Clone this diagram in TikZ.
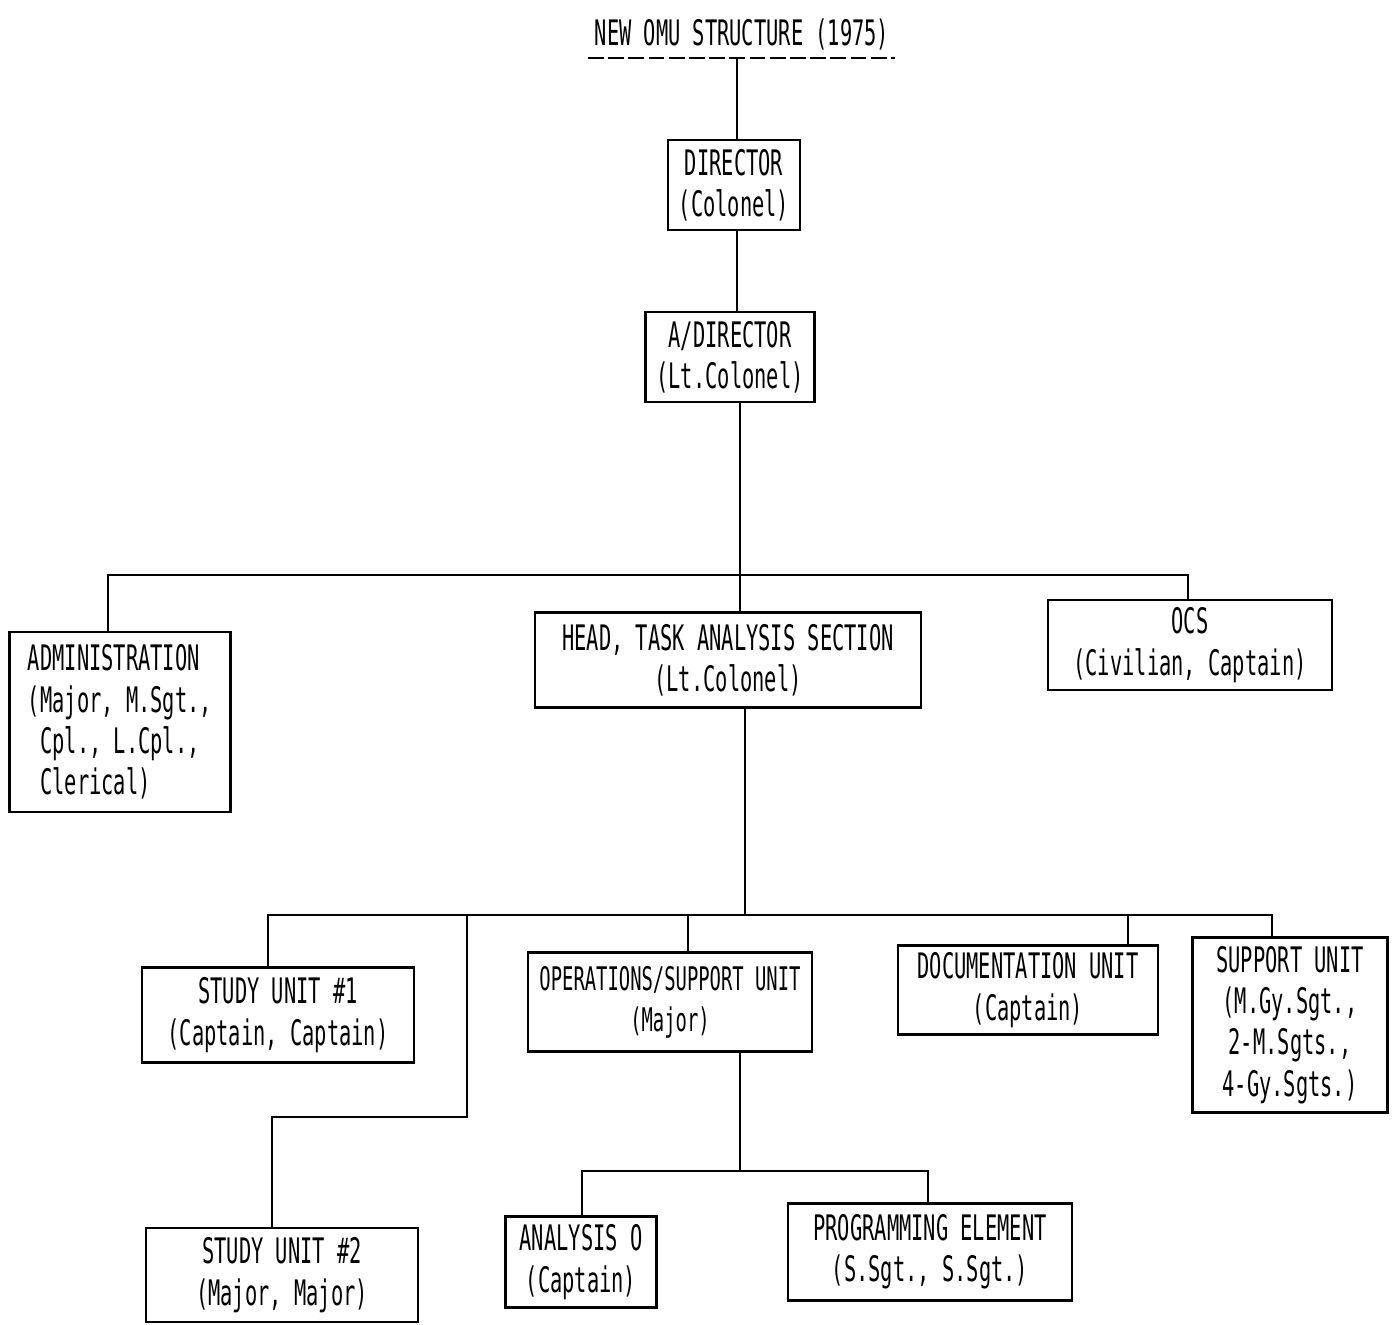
\documentclass[tikz,border=0pt]{standalone}
\usepackage{fontspec}
\setmainfont{DejaVu Sans Mono}[FakeStretch=0.58]
\begin{document}
\begin{tikzpicture}[x=0.02cm,y=-0.02cm,
  every node/.style={font=\fontsize{20}{23.5}\selectfont},
  bx/.style 2 args={draw, line width=1.2pt, align=center, inner sep=0pt,
    minimum width=#1*0.02cm, minimum height=#2*0.02cm},
  ln/.style={line width=1.2pt}]
\useasboundingbox[fill=white] (0,0) rectangle (1398,1324);

% title
\node (title) at (742,34) {NEW OMU STRUCTURE (1975)};
\coordinate (tl) at (588,58);
\coordinate (tr) at (895,58);
\draw[ln, dash pattern=on 9pt off 2.5pt] (tl) -- (tr);

% boxes
\node[bx={132}{90}] (dir) at (734,185) {DIRECTOR\\(Colonel)};
\node[bx={169}{90}] (adir) at (730,357) {A/DIRECTOR\\(Lt.Colonel)};
\node[bx={221}{180}, align=left] (admin) at (120,722)
  {ADMINISTRATION\\(Major, M.Sgt.,\\\phantom{(}Cpl., L.Cpl.,\\\phantom{(}Clerical)};
\node[bx={386}{95}] (head) at (728,660) {HEAD, TASK ANALYSIS SECTION\\(Lt.Colonel)};
\node[bx={284}{90}] (ocs) at (1190,645) {OCS\\(Civilian, Captain)};
\node[bx={272}{95}] (su1) at (278,1015) {STUDY UNIT \#1\\(Captain, Captain)};
\node[bx={284}{99}, font=\fontsize{18.5}{23.5}\selectfont] (ops) at (670,1002) {OPERATIONS/SUPPORT UNIT\\(Major)};
\node[bx={260}{89}] (doc) at (1028,990) {DOCUMENTATION UNIT\\(Captain)};
\node[bx={195}{175}] (sup) at (1290,1025) {SUPPORT UNIT\\(M.Gy.Sgt.,\\2-M.Sgts.,\\4-Gy.Sgts.)};
\node[bx={151}{91}] (ana) at (581,1262) {ANALYSIS O\\(Captain)};
\node[bx={284}{97}] (prog) at (930,1252) {PROGRAMMING ELEMENT\\(S.Sgt., S.Sgt.)};
\node[bx={272}{94}] (su2) at (282,1275) {STUDY UNIT \#2\\(Major, Major)};

% top connectors
\coordinate (t0) at (737,58);
\draw[ln] (t0) -- (t0 |- dir.north);
\draw[ln] (t0 |- dir.south) -- (t0 |- adir.north);
\coordinate (j1) at (740,575);
\coordinate (a1) at (108,575);
\coordinate (o1) at (1188,575);
\draw[ln] (j1 |- adir.south) -- (j1 |- head.north);
\draw[ln] (a1 |- admin.north) -- (a1) -- (o1) -- (o1 |- ocs.north);

% second level
\coordinate (j2) at (745,915);
\coordinate (b1) at (268,915);
\coordinate (b2) at (467,915);
\coordinate (b3) at (688,915);
\coordinate (b4) at (1128,915);
\coordinate (b5) at (1272,915);
\draw[ln] (j2 |- head.south) -- (j2);
\draw[ln] (b1 |- su1.north) -- (b1) -- (b5) -- (b5 |- sup.north);
\draw[ln] (b3) -- (b3 |- ops.north);
\draw[ln] (b4) -- (b4 |- doc.north);
\coordinate (k1) at (467,1117);
\coordinate (k2) at (272,1117);
\draw[ln] (b2) -- (k1) -- (k2) -- (k2 |- su2.north);

% third level
\coordinate (j3) at (740,1171);
\coordinate (c1) at (582,1171);
\coordinate (c2) at (928,1171);
\draw[ln] (j3 |- ops.south) -- (j3);
\draw[ln] (c1 |- ana.north) -- (c1) -- (c2) -- (c2 |- prog.north);
\end{tikzpicture}
\end{document}
